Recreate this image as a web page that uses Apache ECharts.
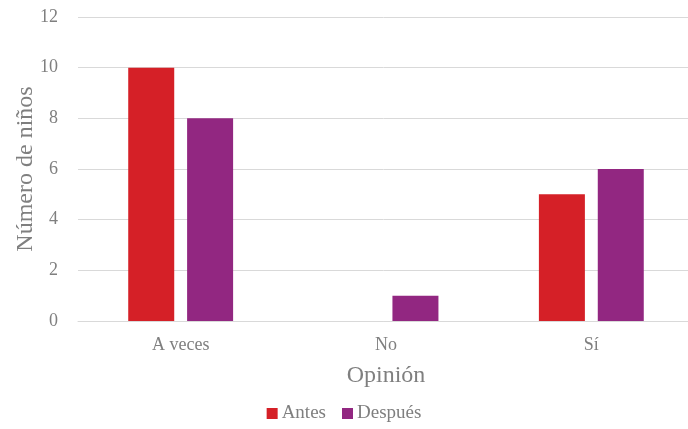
<!DOCTYPE html>
<html><head><meta charset="utf-8">
<script src="https://cdn.jsdelivr.net/npm/echarts@6/dist/echarts.min.js"></script>
<style>html,body{margin:0;padding:0;background:#fff}#c{width:688px;height:429px}</style>
</head><body><div id="c"></div>
<script>
var categories = ["A veces", "No", "Sí"];
var antes = [10, 0, 5];
var despues = [8, 1, 6];
var yTicks = {min: 0, max: 12, interval: 2};

var font = "'Liberation Serif', 'DejaVu Serif', serif";
var chart = echarts.init(document.getElementById('c'));
chart.setOption({
  animation: false,
  textStyle: {fontFamily: font},
  grid: {left: 78, right: -6, top: 17, bottom: 108, containLabel: false, outerBoundsMode: 'none'},
  legend: {
    bottom: 1, left: 'center', itemWidth: 11, itemHeight: 11, itemGap: 16,
    icon: 'rect',
    textStyle: {fontFamily: font, fontSize: 19, color: '#7f7f7f', padding: [0,0,0,-1]},
    data: ['Antes', 'Después']
  },
  xAxis: {
    type: 'category', data: categories,
    name: 'Opinión', nameLocation: 'middle', nameGap: 43, nameMoveOverlap: false,
    nameTextStyle: {fontFamily: font, fontSize: 24, color: '#7f7f7f'},
    axisLine: {lineStyle: {color: '#d9d9d9'}},
    axisTick: {show: false},
    axisLabel: {fontFamily: font, fontSize: 18, color: '#7f7f7f', margin: 15}
  },
  yAxis: {
    type: 'value', min: yTicks.min, max: yTicks.max, interval: yTicks.interval,
    name: 'Número de niños', nameLocation: 'middle', nameGap: 40, nameRotate: 90, nameMoveOverlap: false,
    nameTextStyle: {fontFamily: font, fontSize: 24, color: '#7f7f7f'},
    axisLine: {show: false}, axisTick: {show: false},
    axisLabel: {fontFamily: font, fontSize: 18, color: '#7f7f7f', margin: 20},
    splitLine: {lineStyle: {color: '#d9d9d9', width: 1}}
  },
  series: [
    {name: 'Antes', type: 'bar', data: antes, barWidth: 46, barGap: '28%',
     itemStyle: {color: '#d52027'}},
    {name: 'Después', type: 'bar', data: despues, barWidth: 46,
     itemStyle: {color: '#922781'}}
  ]
});
</script></body></html>
